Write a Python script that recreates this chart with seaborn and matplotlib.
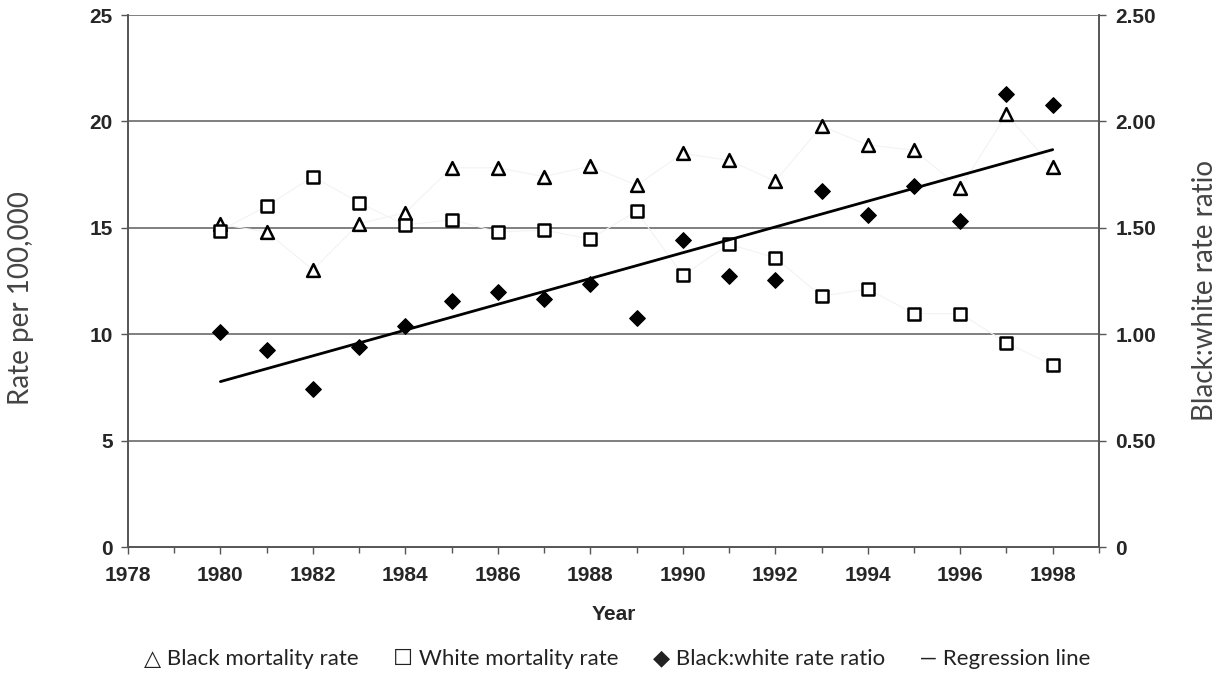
import numpy as np
import seaborn as sns
import matplotlib.pyplot as plt
from matplotlib.ticker import MultipleLocator, FuncFormatter

years = list(range(1980, 1999))
black_rate = [15.16, 14.81, 13.03, 15.20, 15.71, 17.82, 17.82, 17.41, 17.90, 17.00,
              18.50, 18.17, 17.19, 19.78, 18.89, 18.65, 16.88, 20.33, 17.85]
white_rate = [14.87, 16.02, 17.41, 16.18, 15.13, 15.38, 14.81, 14.89, 14.48, 15.78,
              12.77, 14.23, 13.59, 11.79, 12.12, 10.97, 10.97, 9.60, 8.54]
ratio = [1.011, 0.925, 0.743, 0.939, 1.038, 1.158, 1.199, 1.166, 1.234, 1.077,
         1.444, 1.273, 1.257, 1.671, 1.558, 1.696, 1.531, 2.127, 2.077]

sns.set_style('white')
plt.rcParams['font.family'] = ['Liberation Sans', 'DejaVu Sans']
light_font = ['Lato', 'DejaVu Sans']

fig = plt.figure(figsize=(12.22, 6.73), dpi=100)
ax = fig.add_axes([0.1047, 0.1872, 0.7946, 0.7905])
ax2 = ax.twinx()

# horizontal gridlines
for v in [5, 10, 15, 20, 25]:
    ax.axhline(v, color='#7f7f7f', lw=1.4, zorder=0)

# very faint connecting lines, as in the original
ax.plot(years, black_rate, color='#f3f3f3', lw=0.8, zorder=1)
ax.plot(years, white_rate, color='#f3f3f3', lw=0.8, zorder=1)

sns.scatterplot(x=years, y=black_rate, ax=ax, marker='^', s=85,
                facecolor='white', edgecolor='black', linewidth=1.8, zorder=3)
sns.scatterplot(x=years, y=white_rate, ax=ax, marker='s', s=66,
                facecolor='white', edgecolor='black', linewidth=1.8, zorder=3)

sns.regplot(x=years, y=ratio, ax=ax2, scatter=False, ci=None, color='black',
            line_kws={'lw': 2.0})
sns.scatterplot(x=years, y=ratio, ax=ax2, marker='D', s=64, color='black',
                edgecolor='black', linewidth=0.8, zorder=3)

ax.set_xlim(1978, 1999)
ax.set_ylim(0, 25)
ax2.set_ylim(0, 2.5)

ax.xaxis.set_major_locator(MultipleLocator(2))
ax.xaxis.set_minor_locator(MultipleLocator(1))
ax.yaxis.set_major_locator(MultipleLocator(5))
ax2.yaxis.set_major_locator(MultipleLocator(0.5))
ax2.yaxis.set_major_formatter(FuncFormatter(lambda v, p: '0' if v == 0 else f'{v:.2f}'))

ax.tick_params(axis='both', which='both', direction='out', length=5, width=1,
               color='#555555', labelsize=15, bottom=True, left=True)
ax.tick_params(axis='x', which='major', pad=9)
ax.tick_params(axis='y', pad=6)
ax.tick_params(axis='x', which='minor', length=4)
ax2.tick_params(axis='y', direction='out', length=5, width=1, color='#555555',
                labelsize=15, pad=7, right=True)
for lab in ax.get_xticklabels() + ax.get_yticklabels() + ax2.get_yticklabels():
    lab.set_fontweight('bold')

for a in (ax, ax2):
    a.spines['top'].set_visible(False)
    for s in ('left', 'bottom', 'right'):
        a.spines[s].set_color('#555555')
        a.spines[s].set_linewidth(1.2)

ax.set_xlabel('Year', fontsize=15, fontweight='bold', labelpad=14)
ax.set_ylabel('Rate per 100,000', fontsize=20, family=light_font,
              color='#444444', va='center', rotation=90)
ax.yaxis.set_label_coords(-0.110, 0.468)
ax2.set_ylabel('Black:white rate ratio', fontsize=20, family=light_font,
               color='#444444', va='center', rotation=90)
ax2.yaxis.set_label_coords(1.109, 0.483)

fig.text(0.505, 0.021,
         '\u25b3 Black mortality rate      \u2610 White mortality rate      '
         '\u25c6 Black:white rate ratio      \u2014 Regression line',
         ha='center', va='center', fontsize=16, color='#222222',
         family=light_font)

plt.savefig('out.png', dpi=100)
